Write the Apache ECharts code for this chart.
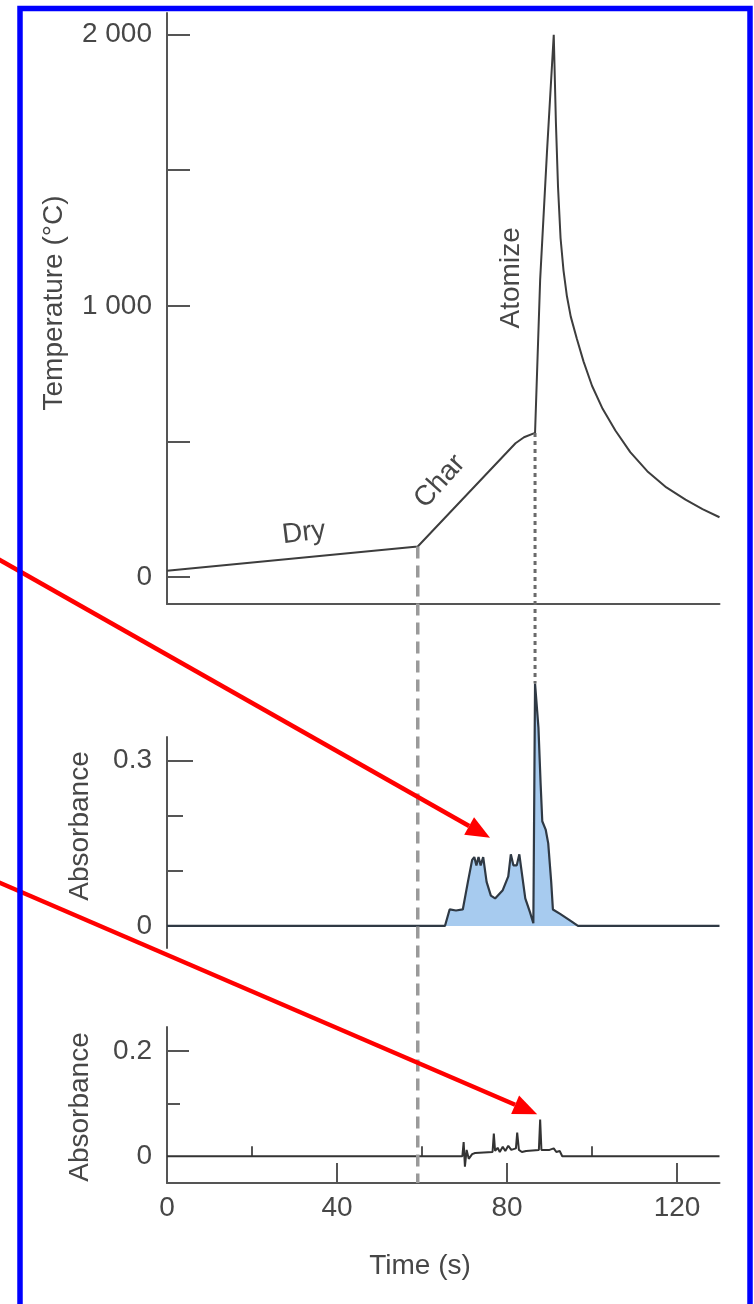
<html style="height: 100%">
<head>
<meta charset="utf-8">
</head>
<body style="height: 100%; margin: 0; background: #fff">
	<div id="container" style="width: 754px; height: 1304px"></div>

	<script src="https://cdn.jsdelivr.net/npm/echarts@6/dist/echarts.min.js"></script>
	<script type="text/javascript">
		// temperature programme (top panel)
		var tempTime = [0, 59, 82, 84, 86.6, 87.8, 89.4, 91, 91.5, 92, 92.6, 93.3, 94.1, 95, 96.4, 98, 100, 102.5, 105.5, 109, 113, 117.5, 122, 126, 130];
		var tempValues = [23, 112, 493, 515, 531, 1096, 1565, 2000, 1680, 1440, 1250, 1130, 1035, 960, 880, 795, 705, 620, 540, 460, 390, 330, 285, 250, 220];

		// absorbance signal, middle panel
		var abs1Time = [0, 65.4, 66.5, 68, 69.6, 70.8, 71.8, 72.3, 72.8, 73.3, 73.8, 74.4, 75.2, 76.2, 77.2, 79, 80.3, 80.9, 81.5, 82.3, 82.9, 83.6, 84.3, 85.4, 86.2, 86.6, 87.4, 87.9, 88.3, 89.1, 89.7, 90.4, 90.8, 92.5, 94.8, 96.7, 130];
		var abs1Values = [0, 0, 0.03, 0.028, 0.03, 0.08, 0.12, 0.125, 0.11, 0.125, 0.11, 0.125, 0.08, 0.055, 0.05, 0.065, 0.09, 0.13, 0.11, 0.11, 0.13, 0.09, 0.05, 0.025, 0.005, 0.44, 0.36, 0.26, 0.19, 0.175, 0.15, 0.08, 0.03, 0.022, 0.01, 0, 0];

		// absorbance signal, bottom panel
		var abs2Time = [0, 69.5, 69.8, 70.1, 70.5, 71, 71.8, 72.5, 76.6, 76.9, 77.2, 77.8, 78.3, 79, 79.6, 80.3, 81, 82.1, 82.4, 82.8, 83.5, 84.5, 87.5, 87.8, 88.1, 89, 90, 91, 91.6, 92.4, 93, 130];
		var abs2Values = [0, 0, 0.027, -0.02, 0.012, -0.005, 0.004, 0.006, 0.008, 0.043, 0.01, 0.016, 0.008, 0.018, 0.01, 0.02, 0.012, 0.015, 0.045, 0.012, 0.008, 0.01, 0.012, 0.07, 0.012, 0.012, 0.012, 0.015, 0.008, 0.01, 0, 0];

		// ticks
		var tempTicks = [0, 500, 1000, 1500, 2000];
		var tempLabels = [0, 1000, 2000];
		var abs1Major = [0.3];
		var abs1Minor = [0.1, 0.2];
		var abs2Major = [0.2];
		var abs2Minor = [0.1];
		var timeLabels = [0, 40, 80, 120];
		var timeMajor = [40, 80, 120];
		var timeMinor = [20, 60, 100];

		// stage markers and annotations
		var dryEnd = 59;          // dashed line
		var charEnd = 86.6;       // dotted line
		var stageText = [
			{ text: 'Dry', t: 32.2, v: 162, rot: 7 },
			{ text: 'Char', t: 64.2, v: 352, rot: 48 },
			{ text: 'Atomize', t: 81.1, v: 1103, rot: 90 }
		];
		var arrow1Tip = [76, 0.16];
		var arrow2Tip = [87.1, 0.08];

		function zip(a, b) {
			var out = [];
			for (var i = 0; i < a.length; i++) out.push([a[i], b[i]]);
			return out;
		}

		var FONT = '"Liberation Sans", Arial, sans-serif';
		var TXT = '#474747';
		var AX = '#555';
		var xMin = 0, xMax = 130;

		var dom = document.getElementById("container");
		var myChart = echarts.init(dom);

		function tickAxis(grid, min, max, values, len, showLine) {
			return {
				type: 'value', gridIndex: grid, position: 'left', min: min, max: max,
				axisLine: { show: showLine, onZero: false, lineStyle: { color: AX, width: 2 } },
				axisTick: { show: true, inside: true, length: len, customValues: values, lineStyle: { color: AX, width: 2 } },
				axisLabel: { show: false },
				splitLine: { show: false }
			};
		}

		var labelStyle = { fontSize: 28, fontFamily: FONT, color: TXT };

		var option = {
			animation: false,
			backgroundColor: '#fff',
			grid: [
				{ left: 167, right: 34.5, top: 13, height: 591 },
				{ left: 167, right: 34.5, top: 737, height: 211 },
				{ left: 167, right: 34.5, top: 1027, height: 156 }
			],
			xAxis: [
				{ type: 'value', gridIndex: 0, min: xMin, max: xMax,
					axisLine: { show: true, onZero: false, lineStyle: { color: AX, width: 2 } },
					axisTick: { show: false }, axisLabel: { show: false }, splitLine: { show: false } },
				{ type: 'value', gridIndex: 1, min: xMin, max: xMax, show: false },
				{ type: 'value', gridIndex: 2, min: xMin, max: xMax, position: 'bottom',
					axisLine: { show: true, onZero: false, lineStyle: { color: AX, width: 2 } },
					axisTick: { show: true, inside: true, length: 20, customValues: timeMajor, lineStyle: { color: AX, width: 2 } },
					axisLabel: Object.assign({ show: true, margin: 11, customValues: timeLabels }, labelStyle),
					splitLine: { show: false } },
				{ type: 'value', gridIndex: 2, min: xMin, max: xMax, position: 'bottom',
					axisLine: { show: false },
					axisTick: { show: true, inside: true, length: 10, customValues: timeMinor, lineStyle: { color: AX, width: 2 } },
					axisLabel: { show: false }, splitLine: { show: false } }
			],
			yAxis: [
				{ type: 'value', gridIndex: 0, min: -100, max: 2080,
					axisLine: { show: true, lineStyle: { color: AX, width: 2 } },
					axisTick: { show: true, inside: true, length: 23, customValues: tempTicks, lineStyle: { color: AX, width: 2 } },
					axisLabel: Object.assign({ show: true, margin: 15, customValues: tempLabels,
						formatter: function (v) { return v === 0 ? '0' : (v / 1000) + ' 000'; } }, labelStyle),
					splitLine: { show: false } },
				{ type: 'value', gridIndex: 1, min: -0.04, max: 0.343,
					axisLine: { show: true, lineStyle: { color: AX, width: 2 } },
					axisTick: { show: true, inside: true, length: 26, customValues: abs1Major, lineStyle: { color: AX, width: 2 } },
					axisLabel: Object.assign({ show: true, margin: 15, customValues: [0, 0.3],
						formatter: function (v) { return v === 0 ? '0' : String(v); } }, labelStyle),
					splitLine: { show: false } },
				tickAxis(1, -0.04, 0.343, abs1Minor, 16, false),
				{ type: 'value', gridIndex: 2, min: -0.051, max: 0.246,
					axisLine: { show: true, lineStyle: { color: AX, width: 2 } },
					axisTick: { show: true, inside: true, length: 22, customValues: abs2Major, lineStyle: { color: AX, width: 2 } },
					axisLabel: Object.assign({ show: true, margin: 15, customValues: [0, 0.2],
						formatter: function (v) { return v === 0 ? '0' : String(v); } }, labelStyle),
					splitLine: { show: false } },
				tickAxis(2, -0.051, 0.246, abs2Minor, 13, false)
			],
			series: [
				{ name: 'temperature', type: 'line', xAxisIndex: 0, yAxisIndex: 0, showSymbol: false,
					lineStyle: { color: '#3d3d3d', width: 2 }, data: zip(tempTime, tempValues) },
				{ name: 'absorbance-1', type: 'line', xAxisIndex: 1, yAxisIndex: 1, showSymbol: false, clip: false,
					lineStyle: { color: '#2f3944', width: 2.2 },
					areaStyle: { color: '#a7cbef', opacity: 1 },
					data: zip(abs1Time, abs1Values) },
				{ name: 'absorbance-2', type: 'line', xAxisIndex: 2, yAxisIndex: 3, showSymbol: false,
					lineStyle: { color: '#333', width: 2 }, data: zip(abs2Time, abs2Values) }
			]
		};

		myChart.setOption(option);

		// overlay: stage lines, labels, arrows, frame
		function px(series, pt) {
			return myChart.convertToPixel({ seriesIndex: series }, pt);
		}
		function textEl(text, x, y, rotDeg) {
			return { type: 'text', x: x, y: y, rotation: (rotDeg || 0) * Math.PI / 180, z: 50,
				style: { text: text, fontSize: 28, fontFamily: FONT, fill: TXT, align: 'center', verticalAlign: 'middle' } };
		}
		function arrow(from, tip) {
			var dx = tip[0] - from[0], dy = tip[1] - from[1];
			var L = Math.sqrt(dx * dx + dy * dy), ux = dx / L, uy = dy / L;
			var headLen = 24, headW = 10;
			var bx = tip[0] - ux * headLen, by = tip[1] - uy * headLen;
			return [
				{ type: 'line', z: 60, shape: { x1: from[0], y1: from[1], x2: bx, y2: by },
					style: { stroke: '#ff0000', lineWidth: 4.5 } },
				{ type: 'polygon', z: 60, shape: { points: [[tip[0], tip[1]],
					[bx - uy * headW, by + ux * headW], [bx + uy * headW, by - ux * headW]] },
					style: { fill: '#ff0000' } }
			];
		}

		var dashTop = px(0, [dryEnd, tempValues[1]]);
		var dashBot = px(2, [dryEnd, -0.051]);
		var dotTop = px(0, [charEnd, tempValues[4]]);
		var dotBot = px(1, [charEnd, 0.44]);

		var graphics = [
			{ type: 'line', z: 40, shape: { x1: dashTop[0], y1: dashTop[1], x2: dashBot[0], y2: dashBot[1] },
				style: { stroke: '#9a9a9a', lineWidth: 3.5, lineDash: [12, 7] } },
			{ type: 'line', z: 40, shape: { x1: dotTop[0], y1: dotTop[1], x2: dotBot[0], y2: dotBot[1] },
				style: { stroke: '#6a6a6a', lineWidth: 3, lineDash: [4, 4] } },
			textEl('Temperature (°C)', 54, 303, 90),
			textEl('Absorbance', 80, 826, 90),
			textEl('Absorbance', 80, 1107, 90),
			textEl('Time (s)', 420, 1266, 0),
			{ type: 'rect', z: 70, shape: { x: 20, y: 8.5, width: 730, height: 1320 },
				style: { fill: 'none', stroke: '#0000ff', lineWidth: 5.5 } }
		];
		stageText.forEach(function (s) {
			var p = px(0, [s.t, s.v]);
			graphics.push(textEl(s.text, p[0], p[1], s.rot));
		});
		graphics = graphics.concat(arrow([-2, 559], px(1, arrow1Tip)));
		graphics = graphics.concat(arrow([-2, 882], px(2, arrow2Tip)));

		myChart.setOption({ graphic: graphics });
	</script>
</body>
</html>
